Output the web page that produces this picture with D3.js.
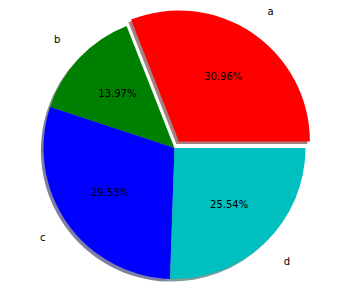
<!DOCTYPE html>
<html>
<head>
<meta charset="utf-8">
<script src="https://cdn.jsdelivr.net/npm/d3@7"></script>
<style>
  body { margin: 0; background: #fff; }
  text { font-family: "DejaVu Sans", sans-serif; font-size: 10px; fill: #000; }
</style>
</head>
<body>
<div id="chart"></div>
<script>
var labels = ['a', 'b', 'c', 'd'];
var values = [30.96, 13.97, 29.53, 25.54];
var colors = ['#ff0000', '#008000', '#0000ff', '#00bfbf'];
var explode = [0.06, 0, 0, 0];

var width = 349, height = 288;
var cx = 174.5, cy = 148, radius = 131;

var svg = d3.select('#chart').append('svg')
    .attr('width', width)
    .attr('height', height);

// matplotlib style: start at 3 o'clock, go counterclockwise
var pie = d3.pie().sort(null)
    .startAngle(Math.PI / 2)
    .endAngle(Math.PI / 2 - 2 * Math.PI);

var arcs = pie(values);
var arc = d3.arc().innerRadius(0).outerRadius(radius);
var pctArc = d3.arc().innerRadius(radius * 0.6).outerRadius(radius * 0.6);
var labelArc = d3.arc().innerRadius(radius * 1.2).outerRadius(radius * 1.2);

function offset(d, i) {
    var mid = (d.startAngle + d.endAngle) / 2;
    var e = explode[i] * radius;
    return [cx + Math.sin(mid) * e, cy - Math.cos(mid) * e];
}

var total = d3.sum(values);

//shadows
svg.selectAll('path.shadow')
    .data(arcs)
    .enter().append('path')
    .attr('class', 'shadow')
    .attr('d', arc)
    .attr('transform', function (d, i) {
        var o = offset(d, i);
        return 'translate(' + (o[0] - 2.6) + ',' + (o[1] + 2.6) + ')';
    })
    .style('fill', function (d, i) {
        var c = d3.rgb(colors[i]);
        return d3.rgb(c.r * 0.3, c.g * 0.3, c.b * 0.3);
    })
    .style('opacity', 0.5);

//wedges
svg.selectAll('path.wedge')
    .data(arcs)
    .enter().append('path')
    .attr('class', 'wedge')
    .attr('d', arc)
    .attr('transform', function (d, i) {
        var o = offset(d, i);
        return 'translate(' + o[0] + ',' + o[1] + ')';
    })
    .style('fill', function (d, i) { return colors[i]; });

//percent text
svg.selectAll('text.pct')
    .data(arcs)
    .enter().append('text')
    .attr('class', 'pct')
    .attr('transform', function (d, i) {
        var o = offset(d, i), c = pctArc.centroid(d);
        return 'translate(' + (o[0] + c[0]) + ',' + (o[1] + c[1]) + ')';
    })
    .attr('text-anchor', 'middle')
    .attr('dy', '0.35em')
    .text(function (d) { return (d.value / total * 100).toFixed(2) + '%'; });

//category labels
svg.selectAll('text.lbl')
    .data(arcs)
    .enter().append('text')
    .attr('class', 'lbl')
    .attr('transform', function (d, i) {
        var o = offset(d, i), c = labelArc.centroid(d);
        return 'translate(' + (o[0] + c[0]) + ',' + (o[1] + c[1]) + ')';
    })
    .attr('text-anchor', function (d) {
        return Math.sin((d.startAngle + d.endAngle) / 2) > 0 ? 'start' : 'end';
    })
    .attr('dy', '0.35em')
    .text(function (d, i) { return labels[i]; });
</script>
</body>
</html>
